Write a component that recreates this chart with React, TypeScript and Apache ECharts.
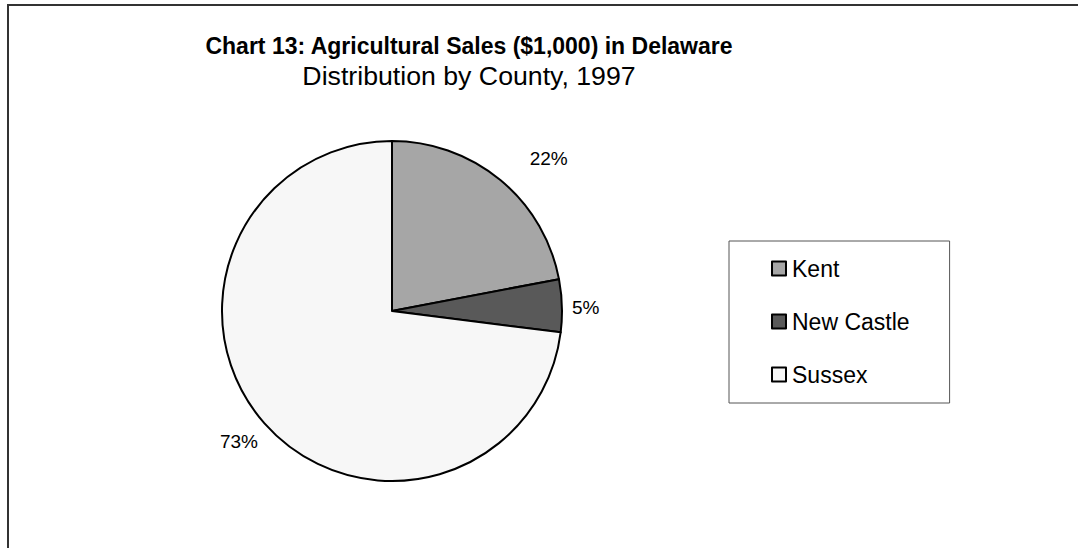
import React, { useEffect, useRef } from "react";
import * as echarts from "echarts";

const counties = ["Kent", "New Castle", "Sussex"];
const shares = [22, 5, 73];
const sliceColors = ["#a6a6a6", "#595959", "#f7f7f7"];
const titleText = "Chart 13: Agricultural Sales ($1,000) in Delaware";
const subtitleText = "Distribution by County, 1997";
const labelOffsets = [
  [18, -14],
  [-5, 2],
  [6, 11],
];

const FONT = "Arial, 'Liberation Sans', Helvetica, sans-serif";

export default function App() {
  const ref = useRef<HTMLDivElement>(null);
  useEffect(() => {
    if (!ref.current) return;
    const chart = echarts.init(ref.current, undefined, { renderer: "svg" });
    chart.setOption({
      animation: false,
      backgroundColor: "#ffffff",
      textStyle: { fontFamily: FONT },
      title: {
        text: titleText,
        subtext: subtitleText,
        left: 469,
        top: 33,
        textAlign: "center",
        itemGap: 2,
        padding: 0,
        textStyle: { fontFamily: FONT, fontSize: 23, fontWeight: "bold", color: "#000", lineHeight: 26 },
        subtextStyle: { fontFamily: FONT, fontSize: 26.7, color: "#000", lineHeight: 30 },
      },
      graphic: [
        {
          type: "rect",
          shape: { x: 8, y: 5, width: 1200, height: 700 },
          style: { fill: "none", stroke: "#333", lineWidth: 2 },
          silent: true,
        },
      ],
      legend: {
        orient: "vertical",
        left: 729,
        top: 241,
        padding: [16, 40, 17, 42],
        borderColor: "#555",
        borderWidth: 1,
        itemWidth: 14,
        itemHeight: 14,
        itemGap: 30,
        icon: "rect",
        itemStyle: { borderColor: "#000", borderWidth: 2 },
        textStyle: { fontFamily: FONT, fontSize: 23, color: "#000", lineHeight: 23, padding: [0, 0, 0, 1] },
        data: counties,
      },
      series: [
        {
          type: "pie",
          center: [392, 311],
          radius: 170,
          startAngle: 90,
          clockwise: true,
          avoidLabelOverlap: false,
          label: {
            show: true,
            position: "outside",
            formatter: (p: any) => p.value + "%",
            fontFamily: FONT,
            fontSize: 19,
            color: "#000",
          },
          labelLine: { show: false, length: 10, length2: 0 },
          labelLayout: (p: any) => ({
            dx: labelOffsets[p.dataIndex][0],
            dy: labelOffsets[p.dataIndex][1],
          }),
          itemStyle: { borderColor: "#000", borderWidth: 2 },
          emphasis: { disabled: true },
          data: counties.map((c, i) => ({
            name: c,
            value: shares[i],
            itemStyle: { color: sliceColors[i] },
          })),
        },
      ],
    });
    return () => chart.dispose();
  }, []);
  return (
    <div
      ref={ref}
      style={{ position: "absolute", left: 0, top: 0, width: 1078, height: 548 }}
    />
  );
}
